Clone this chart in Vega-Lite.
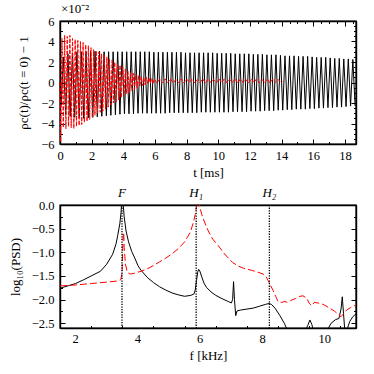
{
  "$schema": "https://vega.github.io/schema/vega-lite/v6.json",
  "padding": {"left": 8, "top": 2, "right": 14, "bottom": 4},
  "background": "white",
  "spacing": 6,
  "config": {
    "font": "Liberation Serif",
    "view": {"stroke": "black", "strokeWidth": 1.4},
    "axis": {
      "labelFont": "Liberation Serif", "titleFont": "Liberation Serif",
      "labelFontSize": 12.5, "titleFontSize": 13, "titleFontWeight": "normal",
      "labelColor": "black", "titleColor": "black", "tickColor": "black",
      "domainColor": "black", "domainWidth": 1.4, "tickWidth": 1,
      "grid": false, "zindex": 1, "labelFlush": false, "labelOverlap": false
    },
    "title": {"font": "Liberation Serif", "fontWeight": "normal", "color": "black"}
  },
  "datasets": {
    "rhoA": [
      {"t":0,"v":0},
      {"t":0.071,"v":-2.2},{"t":0.214,"v":2.5},{"t":0.357,"v":-3.1},{"t":0.5,"v":2.8},{"t":0.643,"v":-3.3},{"t":0.786,"v":2.9},{"t":0.929,"v":-3.4},
      {"t":1.071,"v":3.0},{"t":1.214,"v":-3.45},{"t":1.357,"v":3.0},{"t":1.5,"v":-3.5},{"t":1.643,"v":3.05},{"t":1.786,"v":-3.45},{"t":1.929,"v":3.05},
      {"t":2.071,"v":-3.4},{"t":2.214,"v":3.05},{"t":2.357,"v":-3.35},{"t":2.5,"v":3.05},{"t":2.643,"v":-3.3},{"t":2.786,"v":3.0},{"t":2.929,"v":-3.25},
      {"t":3.071,"v":3.0},{"t":3.214,"v":-3.2},{"t":3.357,"v":3.0},{"t":3.5,"v":-3.15},{"t":3.643,"v":3.0},{"t":3.786,"v":-3.1},{"t":3.929,"v":3.0},
      {"t":4.071,"v":-3.05},{"t":4.214,"v":3.0},{"t":4.357,"v":-3.05},{"t":4.5,"v":3.0},{"t":4.643,"v":-3.05},{"t":4.786,"v":3.0},{"t":4.929,"v":-3.0},
      {"t":5.071,"v":3.0},{"t":5.214,"v":-3.0},{"t":5.357,"v":3.0},{"t":5.5,"v":-3.0},{"t":5.643,"v":3.0},{"t":5.786,"v":-3.0},{"t":5.929,"v":2.95},
      {"t":6.071,"v":-3.0},{"t":6.214,"v":2.95},{"t":6.357,"v":-3.0},{"t":6.5,"v":2.95},{"t":6.643,"v":-3.0},{"t":6.786,"v":2.95},{"t":6.929,"v":-2.95},
      {"t":7.071,"v":2.95},{"t":7.214,"v":-2.95},{"t":7.357,"v":2.95},{"t":7.5,"v":-2.95},{"t":7.643,"v":2.95},{"t":7.786,"v":-2.95},{"t":7.929,"v":2.9},
      {"t":8.071,"v":-2.95},{"t":8.214,"v":2.9},{"t":8.357,"v":-2.95},{"t":8.5,"v":2.9},{"t":8.643,"v":-2.95},{"t":8.786,"v":2.9},{"t":8.929,"v":-2.9},
      {"t":9.071,"v":2.9},{"t":9.214,"v":-2.9},{"t":9.357,"v":2.9},{"t":9.5,"v":-2.9},{"t":9.643,"v":2.9},{"t":9.786,"v":-2.9},{"t":9.929,"v":2.85},
      {"t":10.071,"v":-2.9},{"t":10.214,"v":2.85},{"t":10.357,"v":-2.9},{"t":10.5,"v":2.85},{"t":10.643,"v":-2.9},{"t":10.786,"v":2.85},{"t":10.929,"v":-2.85},
      {"t":11.071,"v":2.8},{"t":11.214,"v":-2.85},{"t":11.357,"v":2.8},{"t":11.5,"v":-2.85},{"t":11.643,"v":2.8},{"t":11.786,"v":-2.85},{"t":11.929,"v":2.8},
      {"t":12.071,"v":-2.8},{"t":12.214,"v":2.75},{"t":12.357,"v":-2.8},{"t":12.5,"v":2.75},{"t":12.643,"v":-2.8},{"t":12.786,"v":2.75},{"t":12.929,"v":-2.75},
      {"t":13.071,"v":2.7},{"t":13.214,"v":-2.75},{"t":13.357,"v":2.7},{"t":13.5,"v":-2.75},{"t":13.643,"v":2.7},{"t":13.786,"v":-2.7},{"t":13.929,"v":2.65},
      {"t":14.071,"v":-2.7},{"t":14.214,"v":2.6},{"t":14.357,"v":-2.65},{"t":14.5,"v":2.6},{"t":14.643,"v":-2.65},{"t":14.786,"v":2.6},{"t":14.929,"v":-2.6},
      {"t":15.071,"v":2.55},{"t":15.214,"v":-2.6},{"t":15.357,"v":2.55},{"t":15.5,"v":-2.6},{"t":15.643,"v":2.55},{"t":15.786,"v":-2.55},{"t":15.929,"v":2.5},
      {"t":16.071,"v":-2.55},{"t":16.214,"v":2.45},{"t":16.357,"v":-2.5},{"t":16.5,"v":2.45},{"t":16.643,"v":-2.5},{"t":16.786,"v":2.45},{"t":16.929,"v":-2.45},
      {"t":17.071,"v":2.4},{"t":17.214,"v":-2.45},{"t":17.357,"v":2.35},{"t":17.5,"v":-2.4},{"t":17.643,"v":2.35},{"t":17.786,"v":-2.4},{"t":17.929,"v":2.3},
      {"t":18.071,"v":-2.35},{"t":18.214,"v":2.3},{"t":18.357,"v":-2.3},{"t":18.5,"v":2.25},{"t":18.643,"v":-2.3}
    ],
    "rhoB": [
      {"t":0,"v":0},
      {"t":0.042,"v":-5.8},{"t":0.125,"v":4.3},{"t":0.208,"v":-4.4},{"t":0.292,"v":4.6},{"t":0.375,"v":-4.5},{"t":0.458,"v":4.5},{"t":0.542,"v":-4.3},{"t":0.625,"v":4.6},{"t":0.708,"v":-4.4},{"t":0.792,"v":4.3},{"t":0.875,"v":-4.5},{"t":0.958,"v":4.2},
      {"t":1.042,"v":-4.3},{"t":1.125,"v":4.1},{"t":1.208,"v":-4.2},{"t":1.292,"v":4.0},{"t":1.375,"v":-4.1},{"t":1.458,"v":3.9},{"t":1.542,"v":-3.9},{"t":1.625,"v":3.7},{"t":1.708,"v":-3.8},{"t":1.792,"v":3.6},{"t":1.875,"v":-3.6},{"t":1.958,"v":3.4},
      {"t":2.042,"v":-3.4},{"t":2.125,"v":3.2},{"t":2.208,"v":-3.2},{"t":2.292,"v":3.1},{"t":2.375,"v":-3.0},{"t":2.458,"v":3.0},{"t":2.542,"v":-2.9},{"t":2.625,"v":2.8},{"t":2.708,"v":-2.8},{"t":2.792,"v":2.7},{"t":2.875,"v":-2.6},{"t":2.958,"v":2.5},
      {"t":3.042,"v":-2.4},{"t":3.125,"v":2.3},{"t":3.208,"v":-2.2},{"t":3.292,"v":2.2},{"t":3.375,"v":-2.0},{"t":3.458,"v":2.0},{"t":3.542,"v":-1.9},{"t":3.625,"v":1.8},{"t":3.708,"v":-1.7},{"t":3.792,"v":1.7},{"t":3.875,"v":-1.5},{"t":3.958,"v":1.5},
      {"t":4.042,"v":-1.3},{"t":4.125,"v":1.3},{"t":4.208,"v":-1.1},{"t":4.292,"v":1.1},{"t":4.375,"v":-1.0},{"t":4.458,"v":1.0},{"t":4.542,"v":-0.8},{"t":4.625,"v":0.9},{"t":4.708,"v":-0.7},{"t":4.792,"v":0.8},{"t":4.875,"v":-0.5},{"t":4.958,"v":0.7},
      {"t":5.042,"v":-0.4},{"t":5.125,"v":0.6},{"t":5.208,"v":-0.3},{"t":5.292,"v":0.5},{"t":5.375,"v":-0.2},{"t":5.458,"v":0.5},{"t":5.542,"v":-0.15},{"t":5.625,"v":0.45},{"t":5.708,"v":-0.1},{"t":5.792,"v":0.4},{"t":5.875,"v":-0.1},{"t":5.958,"v":0.35},
      {"t":6.13,"v":-0.05},{"t":6.3,"v":0.35},{"t":6.47,"v":-0.05},{"t":6.64,"v":0.35},{"t":6.81,"v":0.0},{"t":6.98,"v":0.35},{"t":7.15,"v":-0.05},{"t":7.32,"v":0.3},{"t":7.49,"v":0.0},{"t":7.66,"v":0.35},{"t":7.83,"v":-0.05},{"t":8.0,"v":0.35},
      {"t":8.17,"v":0.0},{"t":8.34,"v":0.35},{"t":8.51,"v":-0.05},{"t":8.68,"v":0.3},{"t":8.85,"v":0.0},{"t":9.02,"v":0.35},{"t":9.19,"v":-0.05},{"t":9.36,"v":0.35},{"t":9.53,"v":0.0},{"t":9.7,"v":0.3},{"t":9.87,"v":-0.05},{"t":10.04,"v":0.35},
      {"t":10.21,"v":0.0},{"t":10.38,"v":0.35},{"t":10.55,"v":-0.05},{"t":10.72,"v":0.3},{"t":10.89,"v":0.0},{"t":11.06,"v":0.35},{"t":11.23,"v":-0.05},{"t":11.4,"v":0.35},{"t":11.57,"v":0.0},{"t":11.74,"v":0.3},{"t":11.91,"v":-0.05},{"t":12.08,"v":0.35},
      {"t":12.25,"v":0.0},{"t":12.42,"v":0.35},{"t":12.59,"v":-0.05},{"t":12.76,"v":0.3},{"t":12.93,"v":0.0},{"t":13.1,"v":0.35},{"t":13.27,"v":-0.05},{"t":13.44,"v":0.35},{"t":13.61,"v":0.0},{"t":13.78,"v":0.3},{"t":13.95,"v":0.0},{"t":14.05,"v":0.1}
    ],
    "psdA": [
      {"f":1.5,"p":-1.76},{"f":1.8,"p":-1.7},{"f":2.0,"p":-1.66},{"f":2.26,"p":-1.58},{"f":2.5,"p":-1.5},{"f":2.8,"p":-1.4},{"f":3.0,"p":-1.25},{"f":3.19,"p":-1.04},{"f":3.3,"p":-0.82},{"f":3.35,"p":-0.65},{"f":3.42,"p":-0.4},{"f":3.46,"p":-0.15},{"f":3.48,"p":0.1},{"f":3.5,"p":0.3},
      {"f":3.53,"p":0.0},{"f":3.56,"p":-0.25},{"f":3.62,"p":-0.55},{"f":3.7,"p":-0.78},{"f":3.8,"p":-0.98},{"f":3.9,"p":-1.12},{"f":4.0,"p":-1.28},{"f":4.1,"p":-1.38},{"f":4.3,"p":-1.53},{"f":4.5,"p":-1.64},{"f":4.7,"p":-1.73},{"f":4.9,"p":-1.8},{"f":5.1,"p":-1.86},{"f":5.3,"p":-1.9},{"f":5.5,"p":-1.93},{"f":5.7,"p":-1.91},{"f":5.8,"p":-1.88},
      {"f":5.84,"p":-1.8},{"f":5.88,"p":-1.6},{"f":5.92,"p":-1.42},{"f":5.95,"p":-1.36},{"f":5.99,"p":-1.4},{"f":6.05,"p":-1.52},{"f":6.12,"p":-1.65},{"f":6.2,"p":-1.74},{"f":6.35,"p":-1.84},{"f":6.5,"p":-1.91},{"f":6.7,"p":-1.98},{"f":6.9,"p":-2.04},{"f":7.0,"p":-2.07},
      {"f":7.04,"p":-2.0},{"f":7.07,"p":-1.62},{"f":7.1,"p":-2.0},{"f":7.14,"p":-2.34},{"f":7.18,"p":-2.24},{"f":7.3,"p":-2.22},{"f":7.5,"p":-2.2},{"f":7.7,"p":-2.18},{"f":7.9,"p":-2.14},{"f":8.1,"p":-2.1},{"f":8.22,"p":-2.08},{"f":8.3,"p":-2.11},{"f":8.4,"p":-2.18},{"f":8.55,"p":-2.33},{"f":8.7,"p":-2.5},{"f":8.8,"p":-2.65},
      {"f":9.0,"p":-2.8},{"f":9.3,"p":-2.75},{"f":9.45,"p":-2.55},{"f":9.52,"p":-2.43},{"f":9.58,"p":-2.52},{"f":9.65,"p":-2.7},{"f":9.9,"p":-2.8},{"f":10.1,"p":-2.62},{"f":10.2,"p":-2.5},{"f":10.35,"p":-2.42},{"f":10.45,"p":-2.4},{"f":10.52,"p":-2.2},{"f":10.56,"p":-1.94},{"f":10.6,"p":-2.3},{"f":10.64,"p":-2.65},{"f":10.72,"p":-2.62},{"f":10.8,"p":-2.46},{"f":10.9,"p":-2.36},{"f":11.0,"p":-2.3}
    ],
    "psdB": [
      {"f":1.5,"p":-1.71},{"f":2.0,"p":-1.69},{"f":2.5,"p":-1.66},{"f":3.0,"p":-1.63},{"f":3.3,"p":-1.61},{"f":3.45,"p":-1.58},{"f":3.49,"p":-1.45},{"f":3.51,"p":-1.0},{"f":3.53,"p":-0.65},{"f":3.545,"p":-0.58},{"f":3.56,"p":-0.9},{"f":3.6,"p":-1.25},{"f":3.66,"p":-1.42},{"f":3.75,"p":-1.46},
      {"f":3.9,"p":-1.44},{"f":4.1,"p":-1.4},{"f":4.3,"p":-1.35},{"f":4.5,"p":-1.28},{"f":4.7,"p":-1.2},{"f":4.9,"p":-1.12},{"f":5.1,"p":-1.03},{"f":5.3,"p":-0.92},{"f":5.5,"p":-0.78},{"f":5.68,"p":-0.58},{"f":5.78,"p":-0.37},{"f":5.84,"p":-0.2},{"f":5.88,"p":-0.05},{"f":5.92,"p":0.1},
      {"f":5.97,"p":0.0},{"f":6.05,"p":-0.2},{"f":6.15,"p":-0.38},{"f":6.26,"p":-0.55},{"f":6.4,"p":-0.72},{"f":6.58,"p":-0.86},{"f":6.75,"p":-1.01},{"f":6.9,"p":-1.12},{"f":7.05,"p":-1.22},{"f":7.22,"p":-1.29},{"f":7.4,"p":-1.34},{"f":7.65,"p":-1.38},{"f":7.85,"p":-1.42},{"f":8.02,"p":-1.46},
      {"f":8.12,"p":-1.52},{"f":8.18,"p":-1.6},{"f":8.26,"p":-1.7},{"f":8.34,"p":-1.81},{"f":8.42,"p":-1.93},{"f":8.5,"p":-2.04},{"f":8.6,"p":-2.06},{"f":8.72,"p":-2.04},{"f":8.8,"p":-2.06},{"f":8.9,"p":-2.02},{"f":9.05,"p":-1.98},{"f":9.2,"p":-1.93},{"f":9.3,"p":-1.92},{"f":9.42,"p":-1.97},
      {"f":9.5,"p":-2.08},{"f":9.58,"p":-2.13},{"f":9.66,"p":-2.06},{"f":9.78,"p":-2.07},{"f":9.9,"p":-2.09},{"f":10.0,"p":-2.12},{"f":10.15,"p":-2.18},{"f":10.3,"p":-2.24},{"f":10.45,"p":-2.32},{"f":10.52,"p":-2.36},{"f":10.6,"p":-2.3},{"f":10.7,"p":-2.22},{"f":10.82,"p":-2.17},{"f":10.9,"p":-2.14},{"f":11.0,"p":-2.12}
    ],
    "modes": [
      {"f":3.49,"name":"F"},{"f":5.87,"name":"H₁"},{"f":8.22,"name":"H₂"}
    ],
    "fticks": [
      {"f":2,"lab":"2"},{"f":4,"lab":"4"},{"f":6,"lab":"6"},{"f":8,"lab":"8"},{"f":10,"lab":"10"}
    ]
  },
  "vconcat": [
    {
      "width": 296, "height": 123,
      "title": {"text": "×10⁻²", "anchor": "start", "frame": "group", "fontSize": 13, "offset": -1, "dx": 1},
      "layer": [
        {
          "data": {"name": "rhoA"},
          "mark": {"type": "line", "color": "black", "strokeWidth": 1},
          "encoding": {
            "x": {"field": "t", "type": "quantitative",
              "scale": {"domain": [0, 18.7], "nice": false, "zero": false},
              "axis": {"orient": "bottom", "title": "t [ms]", "format": "d",
                "values": [0,0.5,1,1.5,2,2.5,3,3.5,4,4.5,5,5.5,6,6.5,7,7.5,8,8.5,9,9.5,10,10.5,11,11.5,12,12.5,13,13.5,14,14.5,15,15.5,16,16.5,17,17.5,18,18.5],
                "tickSize": {"condition": {"test": "datum.value % 2 === 0", "value": -5}, "value": -2.5},
                "labelExpr": "datum.value % 2 === 0 ? datum.label : ''",
                "labelOverlap": false, "labelPadding": 10,
                "titleBaseline": "middle", "titleY": 28}},
            "y": {"field": "v", "type": "quantitative",
              "scale": {"domain": [-6, 6], "nice": false, "zero": false},
              "axis": {"orient": "left", "title": "ρc(t)/ρc(t = 0) − 1", "format": "d",
                "values": [-6,-5.5,-5,-4.5,-4,-3.5,-3,-2.5,-2,-1.5,-1,-0.5,0,0.5,1,1.5,2,2.5,3,3.5,4,4.5,5,5.5,6],
                "tickSize": {"condition": {"test": "datum.value % 2 === 0", "value": -5}, "value": -2.5},
                "labelExpr": "datum.value % 2 === 0 ? datum.label : ''",
                "labelOverlap": false, "labelPadding": 11,
                "titleBaseline": "middle", "titleX": -37}}
          }
        },
        {
          "data": {"name": "rhoB"},
          "mark": {"type": "line", "color": "#ff0000", "strokeWidth": 1, "strokeDash": [4, 1.5]},
          "encoding": {
            "x": {"field": "t", "type": "quantitative",
              "scale": {"domain": [0, 18.7], "nice": false, "zero": false},
              "axis": {"orient": "top", "title": null, "labels": false,
                "values": [0,0.5,1,1.5,2,2.5,3,3.5,4,4.5,5,5.5,6,6.5,7,7.5,8,8.5,9,9.5,10,10.5,11,11.5,12,12.5,13,13.5,14,14.5,15,15.5,16,16.5,17,17.5,18,18.5],
                "tickSize": {"condition": {"test": "datum.value % 2 === 0", "value": -5}, "value": -2.5}}},
            "y": {"field": "v", "type": "quantitative",
              "scale": {"domain": [-6, 6], "nice": false, "zero": false},
              "axis": {"orient": "right", "title": null, "labels": false,
                "values": [-6,-5.5,-5,-4.5,-4,-3.5,-3,-2.5,-2,-1.5,-1,-0.5,0,0.5,1,1.5,2,2.5,3,3.5,4,4.5,5,5.5,6],
                "tickSize": {"condition": {"test": "datum.value % 2 === 0", "value": -5}, "value": -2.5}}}
          }
        }
      ],
      "resolve": {"axis": {"x": "independent", "y": "independent"}}
    },
    {
      "width": 296, "height": 123,
      "layer": [
        {
          "data": {"name": "psdA"},
          "mark": {"type": "line", "color": "black", "strokeWidth": 1, "clip": true},
          "encoding": {
            "x": {"field": "f", "type": "quantitative",
              "scale": {"domain": [1.5, 11], "nice": false, "zero": false},
              "axis": {"orient": "bottom", "title": "f [kHz]", "format": "d",
                "values": [1.5,2,2.5,3,3.5,4,4.5,5,5.5,6,6.5,7,7.5,8,8.5,9,9.5,10,10.5,11],
                "tickSize": {"condition": {"test": "datum.value % 2 === 0", "value": -5}, "value": -2.5},
                "labelExpr": "datum.value % 2 === 0 ? datum.label : ''",
                "tickColor": "black",
                "labelOverlap": false, "labelPadding": 10,
                "titleBaseline": "middle", "titleY": 27.5}},
            "y": {"field": "p", "type": "quantitative",
              "scale": {"domain": [-2.6, 0], "nice": false, "zero": false},
              "axis": {"orient": "left", "title": "log₁₀(PSD)", "format": ".1f",
                "values": [-2.5,-2.25,-2,-1.75,-1.5,-1.25,-1,-0.75,-0.5,-0.25,0],
                "tickSize": {"condition": {"test": "datum.value % 0.5 === 0", "value": -5}, "value": -2.5},
                "labelExpr": "datum.value % 0.5 === 0 ? datum.label : ''",
                "labelOverlap": false, "labelPadding": 11,
                "titleBaseline": "middle", "titleX": -45}}
          }
        },
        {
          "data": {"name": "psdB"},
          "mark": {"type": "line", "color": "#ff0000", "strokeWidth": 1, "strokeDash": [7, 3], "clip": true},
          "encoding": {
            "x": {"field": "f", "type": "quantitative",
              "scale": {"domain": [1.5, 11], "nice": false, "zero": false},
              "axis": {"orient": "top", "title": null, "labels": false,
                "values": [1.5,2,2.5,3,3.5,4,4.5,5,5.5,6,6.5,7,7.5,8,8.5,9,9.5,10,10.5,11],
                "tickSize": {"condition": {"test": "datum.value % 2 === 0", "value": -5}, "value": -2.5},
                "tickColor": "transparent"}},
            "y": {"field": "p", "type": "quantitative",
              "scale": {"domain": [-2.6, 0], "nice": false, "zero": false},
              "axis": {"orient": "right", "title": null, "labels": false,
                "values": [-2.5,-2.25,-2,-1.75,-1.5,-1.25,-1,-0.75,-0.5,-0.25,0],
                "tickSize": {"condition": {"test": "datum.value % 0.5 === 0", "value": -5}, "value": -2.5}}}
          }
        },
        {
          "data": {"name": "modes"},
          "mark": {"type": "rule", "color": "black", "strokeWidth": 1.3, "strokeDash": [1.3, 1.3]},
          "encoding": {
            "x": {"field": "f", "type": "quantitative",
              "scale": {"domain": [1.5, 11], "nice": false, "zero": false},
              "axis": null}
          }
        },
        {
          "data": {"name": "modes"},
          "mark": {"type": "text", "baseline": "bottom", "dy": -5, "fontStyle": "italic", "fontSize": 13, "font": "Liberation Serif", "color": "black"},
          "encoding": {
            "x": {"field": "f", "type": "quantitative",
              "scale": {"domain": [1.5, 11], "nice": false, "zero": false},
              "axis": null},
            "y": {"datum": 0, "type": "quantitative",
              "scale": {"domain": [-2.6, 0], "nice": false, "zero": false},
              "axis": null},
            "text": {"field": "name"}
          }
        },
        {
          "data": {"name": "fticks"},
          "mark": {"type": "text", "baseline": "top", "dy": 5, "fontSize": 12.5, "font": "Liberation Serif", "color": "black"},
          "encoding": {
            "x": {"field": "f", "type": "quantitative",
              "scale": {"domain": [1.5, 11], "nice": false, "zero": false},
              "axis": null},
            "y": {"datum": -2.6, "type": "quantitative",
              "scale": {"domain": [-2.6, 0], "nice": false, "zero": false},
              "axis": null},
            "text": {"field": "lab"}
          }
        }
      ],
      "resolve": {"axis": {"x": "independent", "y": "independent"}}
    }
  ]
}
